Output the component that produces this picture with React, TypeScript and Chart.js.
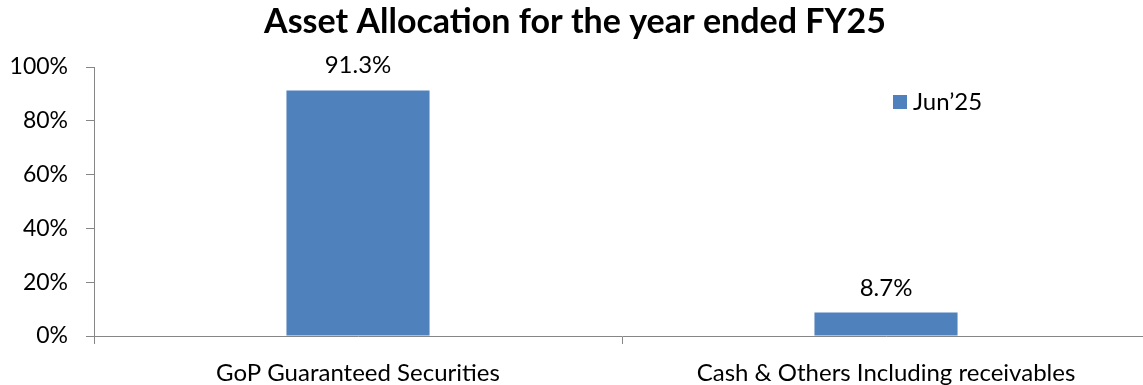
import React, { useEffect, useRef } from "react";
import { Chart, registerables } from "chart.js";

Chart.register(...registerables);

const categories: string[] = ["GoP Guaranteed Securities", "Cash & Others Including receivables"];
const seriesLabel = "Jun\u201925";
const seriesValues: number[] = [91.3, 8.7];
const valueLabels: string[] = ["91.3%", "8.7%"];
const yTicks: number[] = [0, 20, 40, 60, 80, 100];
const titleText = "Asset Allocation for the year ended FY25";

const FONT = "Lato, 'Open Sans', sans-serif";
const BAR_COLOR = "#4F81BD";
const AXIS_COLOR = "#868686";

export default function App() {
  const ref = useRef<HTMLCanvasElement | null>(null);

  useEffect(() => {
    document.body.style.margin = "0";
    const canvas = ref.current;
    if (!canvas) return;

    const valueLabelPlugin = {
      id: "valueLabels",
      afterDatasetsDraw(chart: any) {
        const ctx = chart.ctx;
        const meta = chart.getDatasetMeta(0);
        ctx.save();
        ctx.font = `24px ${FONT}`;
        ctx.fillStyle = "#000";
        ctx.textAlign = "center";
        ctx.textBaseline = "alphabetic";
        meta.data.forEach((bar: any, i: number) => {
          ctx.fillText(valueLabels[i], bar.x, bar.y - 17);
        });
        ctx.restore();
      },
    };

    const legendPlugin = {
      id: "customLegend",
      afterDraw(chart: any) {
        const ctx = chart.ctx;
        const ds = chart.data.datasets[0];
        ctx.save();
        ctx.fillStyle = ds.backgroundColor;
        ctx.fillRect(893, 95, 14, 14);
        ctx.font = `24px ${FONT}`;
        ctx.fillStyle = "#000";
        ctx.textAlign = "left";
        ctx.textBaseline = "alphabetic";
        ctx.fillText(ds.label, 913, 110);
        ctx.restore();
      },
    };

    const chart = new Chart(canvas, {
      type: "bar",
      data: {
        labels: categories,
        datasets: [
          {
            label: seriesLabel,
            data: seriesValues,
            backgroundColor: BAR_COLOR,
            borderWidth: 0,
            categoryPercentage: 1,
            barPercentage: 0.271,
          },
        ],
      },
      options: {
        animation: false,
        responsive: false,
        maintainAspectRatio: false,
        layout: { padding: { left: 0, right: 10, top: 0, bottom: 0 } },
        plugins: {
          legend: { display: false },
          tooltip: { enabled: false },
          title: {
            display: true,
            text: titleText,
            color: "#000",
            font: { family: FONT, size: 34, weight: "bold", lineHeight: 1.2 },
            padding: { top: 2, bottom: 24.2 },
          },
        },
        scales: {
          x: {
            offset: true,
            grid: {
              display: true,
              offset: true,
              drawOnChartArea: false,
              drawTicks: true,
              tickLength: 8,
              color: AXIS_COLOR,
            },
            border: { display: true, color: AXIS_COLOR, width: 1 },
            ticks: {
              color: "#000",
              font: { family: FONT, size: 24 },
              padding: 15,
              maxRotation: 0,
              autoSkip: false,
            },
            afterFit(scale: any) {
              scale.height = 49;
            },
          },
          y: {
            min: 0,
            max: 100,
            afterBuildTicks(scale: any) {
              scale.ticks = yTicks.map((v) => ({ value: v }));
            },
            grid: {
              display: true,
              drawOnChartArea: false,
              drawTicks: true,
              tickLength: 8,
              color: AXIS_COLOR,
            },
            border: { display: true, color: AXIS_COLOR, width: 1 },
            ticks: {
              color: "#000",
              font: { family: FONT, size: 23 },
              padding: 18,
              callback: (v: any) => `${v}%`,
            },
            afterFit(scale: any) {
              scale.width = 94;
            },
          },
        },
      },
      plugins: [valueLabelPlugin, legendPlugin],
    });

    return () => chart.destroy();
  }, []);

  return (
    <div style={{ width: 1143, height: 385, overflow: "hidden", position: "relative" }}>
      <canvas ref={ref} width={1160} height={385} style={{ display: "block" }} />
    </div>
  );
}
